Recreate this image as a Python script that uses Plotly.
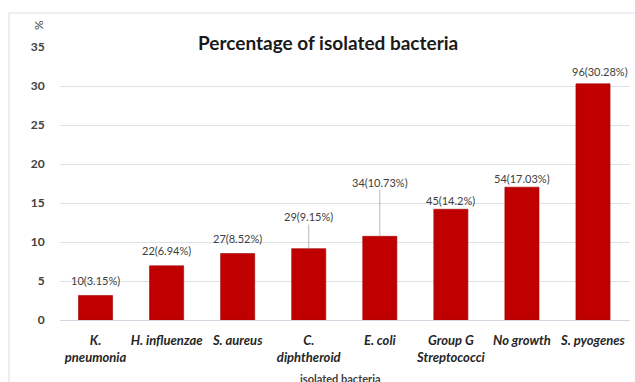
import plotly.graph_objects as go

# Isolated bacteria: counts and percentages
categories = ["K.<br>pneumonia", "H. influenzae", "S. aureus", "C.<br>diphtheroid",
              "E. coli", "Group G<br>Streptococci", "No growth", "S. pyogenes"]
counts = [10, 22, 27, 29, 34, 45, 54, 96]
percents = [3.15, 6.94, 8.52, 9.15, 10.73, 14.2, 17.03, 30.28]
y_ticks = [0, 5, 10, 15, 20, 25, 30, 35]

# Label placement (pixel offset of label centre above bar top) and leader lines
label_dy = [-15, -15, -15, -32, -54, -9, -9, -12]
label_dx = [0, 0, 0, 0, 0, 0, 0, 7]
leader = [False, False, False, True, True, False, False, False]

W, H = 635, 382
ML, MR, MT, MB = 60, 5, 47, 62
PW, PH = W - ML - MR, H - MT - MB


def px_x(px):
    return (px - ML) / PW


def px_y(py):
    return (H - MB - py) / PH


fig = go.Figure(go.Bar(
    x=categories,
    y=percents,
    marker=dict(color="#C00000", line=dict(color="#A00000", width=0.6)),
    width=0.48,
    hoverinfo="skip",
))

annotations = []
for cat, n, p, dy, dx, ld in zip(categories, counts, percents, label_dy, label_dx, leader):
    annotations.append(dict(
        x=cat, y=p, xref="x", yref="y",
        text=f"{n}({p:g}%)",
        showarrow=True, arrowhead=0, arrowwidth=0.8,
        arrowcolor="#A6A6A6" if ld else "rgba(0,0,0,0)",
        ax=dx, ay=dy,
        font=dict(family="Lato, Open Sans, sans-serif", size=11, color="#404040"),
    ))

# Chart title with white backing over the top gridline
annotations.append(dict(
    x=px_x(328), y=px_y(42), xref="paper", yref="paper",
    xanchor="center", yanchor="middle",
    text="<b>Percentage of isolated bacteria</b>", showarrow=False,
    bgcolor="white", borderpad=0,
    font=dict(family="Lato, Open Sans, sans-serif", size=19, color="#1a1a1a"),
))
# Axis titles
annotations.append(dict(
    x=px_x(38), y=px_y(25), xref="paper", yref="paper",
    xanchor="center", yanchor="middle",
    text="%", textangle=-90, showarrow=False,
    font=dict(family="Lato, sans-serif", size=12, color="#404040"),
))
annotations.append(dict(
    x=px_x(340), y=px_y(378), xref="paper", yref="paper",
    xanchor="center", yanchor="middle",
    text="<b>isolated bacteria</b>", showarrow=False,
    font=dict(family="Lato, sans-serif", size=11, color="#404040"),
))

fig.update_layout(
    width=W, height=H,
    margin=dict(l=ML, r=MR, t=MT, b=MB, pad=0),
    paper_bgcolor="white", plot_bgcolor="white",
    showlegend=False,
    annotations=annotations,
    shapes=[dict(
        type="rect", xref="paper", yref="paper",
        x0=px_x(9), x1=px_x(645), y0=px_y(395), y1=px_y(13),
        line=dict(color="#D6DCE4", width=1), fillcolor="rgba(0,0,0,0)", layer="below",
    )],
    xaxis=dict(
        tickfont=dict(family="Lato, Open Sans, sans-serif", size=13, color="#262626",
                      weight="bold", style="italic"),
        showline=False, showgrid=False, ticks="outside", ticklen=8,
        tickcolor="rgba(0,0,0,0)", fixedrange=True,
    ),
    yaxis=dict(
        range=[0, 35], tickvals=y_ticks,
        tickfont=dict(family="Lato, Open Sans, sans-serif", size=12, color="#404040",
                      weight="bold"),
        showgrid=True, gridcolor="#DCE2EA", gridwidth=1,
        zeroline=True, zerolinecolor="#D0D6DE", zerolinewidth=1,
        ticks="outside", ticklen=12, tickcolor="rgba(0,0,0,0)",
        showline=False, fixedrange=True,
    ),
)

fig.write_html("out.html")
